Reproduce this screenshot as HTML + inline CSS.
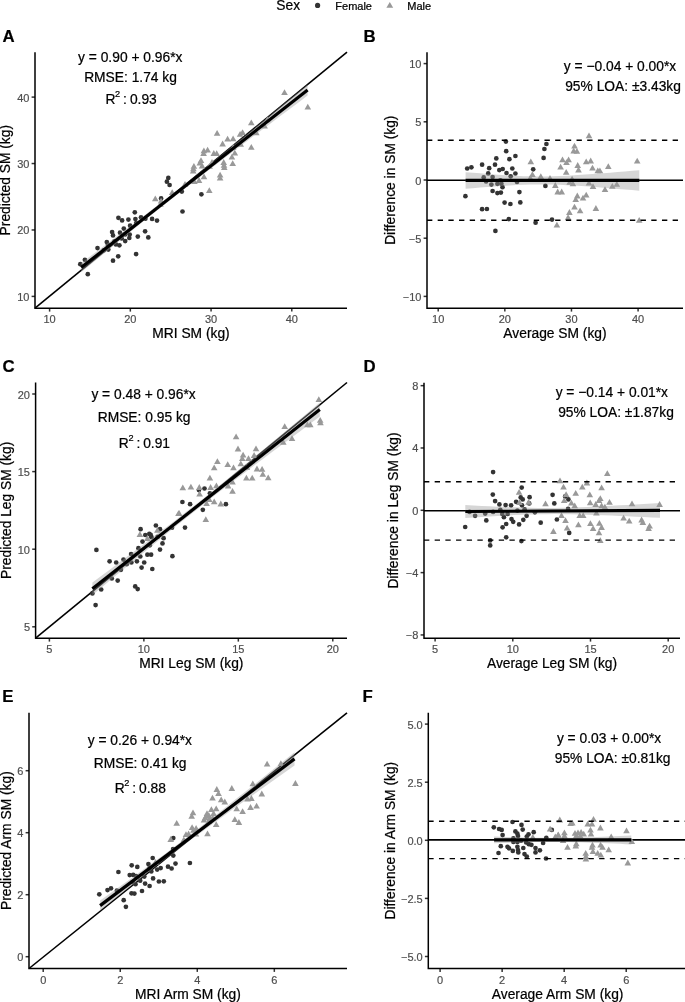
<!DOCTYPE html>
<html><head><meta charset="utf-8"><style>
html,body{margin:0;padding:0;background:#fff;width:685px;height:1002px;overflow:hidden}
svg text{font-family:"Liberation Sans", sans-serif}
svg text{stroke-width:0.22px;stroke-linejoin:round}
svg text[fill="#000"]{stroke:#000}
svg text[fill="#4d4d4d"]{stroke:#4d4d4d;stroke-width:0.18px}
</style></head><body>
<svg width="685" height="1002" viewBox="0 0 685 1002" style="display:block;will-change:transform">
<rect width="685" height="1002" fill="#fff"/>
<text x="276.3" y="9.9" font-size="13.8" fill="#000">Sex</text>
<circle cx="317.6" cy="5.4" r="2.6" fill="#333"/>
<text x="335.3" y="9.6" font-size="11" fill="#000">Female</text>
<path d="M386.4,7.7 L393.2,7.7 L389.8,1.9 Z" fill="#999"/>
<text x="407.3" y="9.6" font-size="11" fill="#000">Male</text>
<text x="2.6" y="41.9" font-size="16.8" font-weight="bold" fill="#000">A</text>
<text x="363.6" y="41.8" font-size="16.8" font-weight="bold" fill="#000">B</text>
<text x="2.5" y="371.9" font-size="16.8" font-weight="bold" fill="#000">C</text>
<text x="363.6" y="371.8" font-size="16.8" font-weight="bold" fill="#000">D</text>
<text x="2.3" y="702.4" font-size="16.8" font-weight="bold" fill="#000">E</text>
<text x="362.4" y="702.3" font-size="16.8" font-weight="bold" fill="#000">F</text>
<line x1="35.00" y1="308.20" x2="347.00" y2="52.20" stroke="#000" stroke-width="1.6"/>
<g fill="#333333"><circle cx="134.8" cy="212.3" r="2.35"/><circle cx="118.4" cy="217.8" r="2.35"/><circle cx="122.1" cy="220.4" r="2.35"/><circle cx="128.4" cy="219.6" r="2.35"/><circle cx="135.4" cy="219.0" r="2.35"/><circle cx="141.0" cy="217.3" r="2.35"/><circle cx="145.4" cy="218.7" r="2.35"/><circle cx="152.1" cy="218.9" r="2.35"/><circle cx="130.1" cy="225.7" r="2.35"/><circle cx="123.8" cy="228.6" r="2.35"/><circle cx="112.1" cy="232.1" r="2.35"/><circle cx="113.0" cy="235.4" r="2.35"/><circle cx="120.0" cy="232.7" r="2.35"/><circle cx="129.7" cy="234.5" r="2.35"/><circle cx="129.3" cy="238.0" r="2.35"/><circle cx="125.2" cy="241.1" r="2.35"/><circle cx="121.7" cy="238.5" r="2.35"/><circle cx="137.8" cy="236.6" r="2.35"/><circle cx="145.1" cy="231.3" r="2.35"/><circle cx="148.3" cy="237.4" r="2.35"/><circle cx="106.8" cy="242.0" r="2.35"/><circle cx="115.9" cy="244.4" r="2.35"/><circle cx="119.4" cy="245.3" r="2.35"/><circle cx="108.3" cy="249.6" r="2.35"/><circle cx="97.5" cy="248.1" r="2.35"/><circle cx="118.2" cy="256.3" r="2.35"/><circle cx="113.0" cy="260.7" r="2.35"/><circle cx="136.1" cy="254.1" r="2.35"/><circle cx="84.9" cy="259.8" r="2.35"/><circle cx="80.3" cy="264.2" r="2.35"/><circle cx="87.8" cy="274.2" r="2.35"/><circle cx="157.0" cy="220.6" r="2.35"/><circle cx="168.3" cy="177.9" r="2.35"/><circle cx="166.9" cy="181.7" r="2.35"/><circle cx="169.6" cy="185.0" r="2.35"/><circle cx="161.1" cy="198.4" r="2.35"/><circle cx="181.8" cy="191.6" r="2.35"/><circle cx="201.4" cy="194.3" r="2.35"/><circle cx="182.5" cy="211.5" r="2.35"/><circle cx="107.9" cy="244.7" r="2.35"/><circle cx="136.2" cy="223.1" r="2.35"/><circle cx="103.8" cy="250.3" r="2.35"/><circle cx="114.5" cy="241.3" r="2.35"/><circle cx="125.1" cy="234.5" r="2.35"/></g>
<g fill="#999999"><path d="M155.3,195.50L158.60,201.30L152.00,201.30Z"/><path d="M161.1,197.70L164.40,203.50L157.80,203.50Z"/><path d="M172.2,189.30L175.50,195.10L168.90,195.10Z"/><path d="M185.0,180.90L188.30,186.70L181.70,186.70Z"/><path d="M194.4,178.20L197.70,184.00L191.10,184.00Z"/><path d="M199.0,177.10L202.30,182.90L195.70,182.90Z"/><path d="M204.0,173.50L207.30,179.30L200.70,179.30Z"/><path d="M193.2,167.70L196.50,173.50L189.90,173.50Z"/><path d="M209.3,187.20L212.60,193.00L206.00,193.00Z"/><path d="M220.1,171.80L223.40,177.60L216.80,177.60Z"/><path d="M220.1,174.70L223.40,180.50L216.80,180.50Z"/><path d="M217.1,129.90L220.40,135.70L213.80,135.70Z"/><path d="M227.6,135.70L230.90,141.50L224.30,141.50Z"/><path d="M233.1,135.50L236.40,141.30L229.80,141.30Z"/><path d="M240.1,131.00L243.40,136.80L236.80,136.80Z"/><path d="M242.6,129.30L245.90,135.10L239.30,135.10Z"/><path d="M222.6,140.60L225.90,146.40L219.30,146.40Z"/><path d="M240.7,141.00L244.00,146.80L237.40,146.80Z"/><path d="M251.3,119.40L254.60,125.20L248.00,125.20Z"/><path d="M251.3,144.00L254.60,149.80L248.00,149.80Z"/><path d="M203.9,147.40L207.20,153.20L200.60,153.20Z"/><path d="M207.6,146.80L210.90,152.60L204.30,152.60Z"/><path d="M203.6,150.10L206.90,155.90L200.30,155.90Z"/><path d="M213.8,150.10L217.10,155.90L210.50,155.90Z"/><path d="M216.7,150.30L220.00,156.10L213.40,156.10Z"/><path d="M234.8,149.70L238.10,155.50L231.50,155.50Z"/><path d="M231.9,153.80L235.20,159.60L228.60,159.60Z"/><path d="M201.0,157.30L204.30,163.10L197.70,163.10Z"/><path d="M199.8,159.70L203.10,165.50L196.50,165.50Z"/><path d="M202.1,162.60L205.40,168.40L198.80,168.40Z"/><path d="M212.0,159.10L215.30,164.90L208.70,164.90Z"/><path d="M223.7,159.10L227.00,164.90L220.40,164.90Z"/><path d="M224.0,162.00L227.30,167.80L220.70,167.80Z"/><path d="M224.3,164.30L227.60,170.10L221.00,170.10Z"/><path d="M232.7,160.20L236.00,166.00L229.40,166.00Z"/><path d="M193.9,162.90L197.20,168.70L190.60,168.70Z"/><path d="M193.4,165.50L196.70,171.30L190.10,171.30Z"/><path d="M284.5,89.20L287.80,95.00L281.20,95.00Z"/><path d="M307.8,103.70L311.10,109.50L304.50,109.50Z"/><path d="M264.6,122.70L267.90,128.50L261.30,128.50Z"/><path d="M256.3,129.50L259.60,135.30L253.00,135.30Z"/><path d="M160.4,201.00L163.70,206.80L157.10,206.80Z"/><path d="M209.6,162.90L212.90,168.70L206.30,168.70Z"/><path d="M233.2,143.90L236.50,149.70L229.90,149.70Z"/><path d="M267.3,116.50L270.60,122.30L264.00,122.30Z"/></g>
<path d="M81.20,263.00 L90.63,255.95 L100.07,248.89 L109.50,241.82 L118.93,234.73 L128.37,227.62 L137.80,220.48 L147.23,213.30 L156.67,206.06 L166.10,198.77 L175.53,191.40 L184.97,183.97 L194.40,176.47 L203.83,168.93 L213.27,161.35 L222.70,153.72 L232.13,146.08 L241.57,138.41 L251.00,130.72 L260.43,123.02 L269.87,115.31 L279.30,107.59 L288.73,99.87 L298.17,92.13 L307.60,84.40 L307.60,95.60 L298.17,102.67 L288.73,109.73 L279.30,116.81 L269.87,123.89 L260.43,130.98 L251.00,138.08 L241.57,145.19 L232.13,152.32 L222.70,159.48 L213.27,166.65 L203.83,173.87 L194.40,181.13 L184.97,188.43 L175.53,195.80 L166.10,203.23 L156.67,210.74 L147.23,218.30 L137.80,225.92 L128.37,233.58 L118.93,241.27 L109.50,248.98 L100.07,256.71 L90.63,264.45 L81.20,272.20Z" fill="#999" fill-opacity="0.4"/>
<line x1="81.20" y1="267.60" x2="307.60" y2="90.00" stroke="#000" stroke-width="3.2"/>
<line x1="427.00" y1="180.30" x2="683.00" y2="180.30" stroke="#000" stroke-width="1.6"/>
<g fill="#333333"><circle cx="505.9" cy="141.6" r="2.35"/><circle cx="546.4" cy="144.0" r="2.35"/><circle cx="544.4" cy="149.0" r="2.35"/><circle cx="506.2" cy="151.2" r="2.35"/><circle cx="515.4" cy="156.0" r="2.35"/><circle cx="496.3" cy="158.4" r="2.35"/><circle cx="509.4" cy="159.2" r="2.35"/><circle cx="543.6" cy="157.9" r="2.35"/><circle cx="482.1" cy="164.7" r="2.35"/><circle cx="495.0" cy="164.7" r="2.35"/><circle cx="467.2" cy="168.5" r="2.35"/><circle cx="471.4" cy="167.3" r="2.35"/><circle cx="489.2" cy="168.2" r="2.35"/><circle cx="512.3" cy="168.5" r="2.35"/><circle cx="499.3" cy="170.1" r="2.35"/><circle cx="502.7" cy="169.0" r="2.35"/><circle cx="533.2" cy="169.3" r="2.35"/><circle cx="488.2" cy="173.4" r="2.35"/><circle cx="506.5" cy="173.0" r="2.35"/><circle cx="515.4" cy="173.5" r="2.35"/><circle cx="510.7" cy="176.3" r="2.35"/><circle cx="483.7" cy="177.4" r="2.35"/><circle cx="492.6" cy="177.1" r="2.35"/><circle cx="486.1" cy="181.4" r="2.35"/><circle cx="491.4" cy="184.6" r="2.35"/><circle cx="497.4" cy="183.8" r="2.35"/><circle cx="501.4" cy="183.8" r="2.35"/><circle cx="502.5" cy="187.2" r="2.35"/><circle cx="517.0" cy="181.9" r="2.35"/><circle cx="545.4" cy="185.9" r="2.35"/><circle cx="465.4" cy="196.2" r="2.35"/><circle cx="492.6" cy="191.0" r="2.35"/><circle cx="497.4" cy="193.1" r="2.35"/><circle cx="500.9" cy="192.6" r="2.35"/><circle cx="519.4" cy="192.1" r="2.35"/><circle cx="504.6" cy="202.6" r="2.35"/><circle cx="510.4" cy="204.0" r="2.35"/><circle cx="520.3" cy="202.4" r="2.35"/><circle cx="482.1" cy="209.2" r="2.35"/><circle cx="486.9" cy="209.0" r="2.35"/><circle cx="508.8" cy="219.1" r="2.35"/><circle cx="535.6" cy="222.7" r="2.35"/><circle cx="552.0" cy="219.6" r="2.35"/><circle cx="495.4" cy="230.9" r="2.35"/><circle cx="500.4" cy="180.3" r="2.35"/></g>
<g fill="#999999"><path d="M530.8,158.40L534.10,164.20L527.50,164.20Z"/><path d="M532.4,171.30L535.70,177.10L529.10,177.10Z"/><path d="M530.3,174.80L533.60,180.60L527.00,180.60Z"/><path d="M540.8,173.30L544.10,179.10L537.50,179.10Z"/><path d="M550.0,174.90L553.30,180.70L546.70,180.70Z"/><path d="M555.3,182.10L558.60,187.90L552.00,187.90Z"/><path d="M557.7,188.60L561.00,194.40L554.40,194.40Z"/><path d="M561.7,188.60L565.00,194.40L558.40,194.40Z"/><path d="M556.9,221.80L560.20,227.60L553.60,227.60Z"/><path d="M560.6,163.70L563.90,169.50L557.30,169.50Z"/><path d="M589.0,132.40L592.30,138.20L585.70,138.20Z"/><path d="M574.5,142.80L577.80,148.60L571.20,148.60Z"/><path d="M573.7,147.60L577.00,153.40L570.40,153.40Z"/><path d="M576.9,147.90L580.20,153.70L573.60,153.70Z"/><path d="M562.5,156.40L565.80,162.20L559.20,162.20Z"/><path d="M568.6,156.40L571.90,162.20L565.30,162.20Z"/><path d="M566.5,159.20L569.80,165.00L563.20,165.00Z"/><path d="M577.7,162.10L581.00,167.90L574.40,167.90Z"/><path d="M578.5,166.60L581.80,172.40L575.20,172.40Z"/><path d="M586.2,158.40L589.50,164.20L582.90,164.20Z"/><path d="M590.7,157.60L594.00,163.40L587.40,163.40Z"/><path d="M592.5,164.80L595.80,170.60L589.20,170.60Z"/><path d="M597.8,167.40L601.10,173.20L594.50,173.20Z"/><path d="M599.9,167.40L603.20,173.20L596.60,173.20Z"/><path d="M608.3,163.20L611.60,169.00L605.00,169.00Z"/><path d="M637.2,157.70L640.50,163.50L633.90,163.50Z"/><path d="M566.2,169.00L569.50,174.80L562.90,174.80Z"/><path d="M572.1,175.70L575.40,181.50L568.80,181.50Z"/><path d="M569.7,178.90L573.00,184.70L566.40,184.70Z"/><path d="M572.9,180.50L576.20,186.30L569.60,186.30Z"/><path d="M589.0,179.70L592.30,185.50L585.70,185.50Z"/><path d="M593.0,183.30L596.30,189.10L589.70,189.10Z"/><path d="M605.0,186.20L608.30,192.00L601.70,192.00Z"/><path d="M612.3,182.90L615.60,188.70L609.00,188.70Z"/><path d="M616.8,181.00L620.10,186.80L613.50,186.80Z"/><path d="M577.3,192.60L580.60,198.40L574.00,198.40Z"/><path d="M575.7,196.30L579.00,202.10L572.40,202.10Z"/><path d="M586.2,191.80L589.50,197.60L582.90,197.60Z"/><path d="M583.0,194.70L586.30,200.50L579.70,200.50Z"/><path d="M574.5,203.80L577.80,209.60L571.20,209.60Z"/><path d="M580.1,207.50L583.40,213.30L576.80,213.30Z"/><path d="M569.4,209.10L572.70,214.90L566.10,214.90Z"/><path d="M595.9,205.10L599.20,210.90L592.60,210.90Z"/><path d="M568.1,214.30L571.40,220.10L564.80,220.10Z"/><path d="M639.2,217.00L642.50,222.80L635.90,222.80Z"/></g>
<line x1="427.00" y1="140.30" x2="683.00" y2="140.30" stroke="#000" stroke-width="1.4" stroke-dasharray="5.34,5.34"/>
<line x1="427.00" y1="220.30" x2="683.00" y2="220.30" stroke="#000" stroke-width="1.4" stroke-dasharray="5.34,5.34"/>
<path d="M465.60,172.15 L472.84,172.76 L480.08,173.36 L487.31,173.93 L494.55,174.47 L501.79,174.98 L509.02,175.43 L516.26,175.83 L523.50,176.14 L530.74,176.35 L537.98,176.45 L545.21,176.42 L552.45,176.28 L559.69,176.03 L566.92,175.69 L574.16,175.29 L581.40,174.82 L588.64,174.32 L595.88,173.78 L603.11,173.21 L610.35,172.63 L617.59,172.02 L624.82,171.41 L632.06,170.78 L639.30,170.15 L639.30,190.75 L632.06,190.12 L624.82,189.49 L617.59,188.88 L610.35,188.27 L603.11,187.69 L595.88,187.12 L588.64,186.58 L581.40,186.08 L574.16,185.61 L566.92,185.21 L559.69,184.87 L552.45,184.62 L545.21,184.48 L537.98,184.45 L530.74,184.55 L523.50,184.76 L516.26,185.07 L509.02,185.47 L501.79,185.92 L494.55,186.43 L487.31,186.97 L480.08,187.54 L472.84,188.14 L465.60,188.75Z" fill="#999" fill-opacity="0.4"/>
<line x1="465.60" y1="180.45" x2="639.30" y2="180.45" stroke="#000" stroke-width="3.2"/>
<line x1="35.60" y1="638.20" x2="347.00" y2="382.50" stroke="#000" stroke-width="1.6"/>
<g fill="#333333"><circle cx="96.4" cy="549.9" r="2.35"/><circle cx="95.6" cy="605.1" r="2.35"/><circle cx="92.4" cy="593.4" r="2.35"/><circle cx="101.2" cy="589.5" r="2.35"/><circle cx="111.8" cy="578.5" r="2.35"/><circle cx="117.7" cy="580.6" r="2.35"/><circle cx="109.6" cy="561.3" r="2.35"/><circle cx="116.2" cy="562.5" r="2.35"/><circle cx="120.9" cy="569.8" r="2.35"/><circle cx="123.5" cy="559.6" r="2.35"/><circle cx="126.7" cy="564.2" r="2.35"/><circle cx="131.1" cy="554.0" r="2.35"/><circle cx="131.4" cy="562.5" r="2.35"/><circle cx="136.9" cy="561.3" r="2.35"/><circle cx="138.4" cy="548.2" r="2.35"/><circle cx="140.3" cy="556.5" r="2.35"/><circle cx="142.5" cy="541.6" r="2.35"/><circle cx="144.2" cy="562.5" r="2.35"/><circle cx="141.6" cy="567.6" r="2.35"/><circle cx="140.6" cy="529.2" r="2.35"/><circle cx="145.3" cy="535.0" r="2.35"/><circle cx="149.3" cy="533.9" r="2.35"/><circle cx="151.5" cy="537.2" r="2.35"/><circle cx="147.4" cy="554.7" r="2.35"/><circle cx="151.1" cy="554.7" r="2.35"/><circle cx="152.3" cy="569.0" r="2.35"/><circle cx="135.2" cy="586.4" r="2.35"/><circle cx="137.7" cy="589.1" r="2.35"/><circle cx="155.9" cy="525.5" r="2.35"/><circle cx="160.0" cy="529.2" r="2.35"/><circle cx="163.6" cy="538.2" r="2.35"/><circle cx="162.5" cy="543.4" r="2.35"/><circle cx="160.0" cy="549.6" r="2.35"/><circle cx="149.8" cy="545.3" r="2.35"/><circle cx="172.4" cy="556.2" r="2.35"/><circle cx="172.0" cy="527.7" r="2.35"/><circle cx="150.7" cy="534.9" r="2.35"/><circle cx="198.9" cy="490.1" r="2.35"/><circle cx="204.5" cy="488.5" r="2.35"/><circle cx="209.9" cy="493.3" r="2.35"/><circle cx="182.4" cy="502.0" r="2.35"/><circle cx="190.1" cy="504.2" r="2.35"/><circle cx="202.8" cy="509.8" r="2.35"/><circle cx="225.9" cy="504.2" r="2.35"/><circle cx="185.0" cy="527.6" r="2.35"/><circle cx="157.6" cy="536.9" r="2.35"/></g>
<g fill="#999999"><path d="M139.9,531.10L143.20,536.90L136.60,536.90Z"/><path d="M147.4,535.10L150.70,540.90L144.10,540.90Z"/><path d="M157.4,527.00L160.70,532.80L154.10,532.80Z"/><path d="M178.5,510.20L181.80,516.00L175.20,516.00Z"/><path d="M238.0,445.60L241.30,451.40L234.70,451.40Z"/><path d="M243.1,451.70L246.40,457.50L239.80,457.50Z"/><path d="M242.3,455.30L245.60,461.10L239.00,461.10Z"/><path d="M248.5,455.30L251.80,461.10L245.20,461.10Z"/><path d="M217.4,458.30L220.70,464.10L214.10,464.10Z"/><path d="M227.7,461.20L231.00,467.00L224.40,467.00Z"/><path d="M233.5,464.50L236.80,470.30L230.20,470.30Z"/><path d="M240.8,460.50L244.10,466.30L237.50,466.30Z"/><path d="M214.2,464.50L217.50,470.30L210.90,470.30Z"/><path d="M209.9,474.80L213.20,480.60L206.60,480.60Z"/><path d="M246.4,474.80L249.70,480.60L243.10,480.60Z"/><path d="M232.5,478.70L235.80,484.50L229.20,484.50Z"/><path d="M228.1,482.60L231.40,488.40L224.80,488.40Z"/><path d="M232.5,487.90L235.80,493.70L229.20,493.70Z"/><path d="M216.4,482.40L219.70,488.20L213.10,488.20Z"/><path d="M210.6,484.10L213.90,489.90L207.30,489.90Z"/><path d="M199.3,484.10L202.60,489.90L196.00,489.90Z"/><path d="M199.6,490.80L202.90,496.60L196.30,496.60Z"/><path d="M182.8,484.50L186.10,490.30L179.50,490.30Z"/><path d="M190.9,483.80L194.20,489.60L187.60,489.60Z"/><path d="M206.6,500.20L209.90,506.00L203.30,506.00Z"/><path d="M214.2,498.40L217.50,504.20L210.90,504.20Z"/><path d="M220.8,500.60L224.10,506.40L217.50,506.40Z"/><path d="M179.2,510.10L182.50,515.90L175.90,515.90Z"/><path d="M205.8,516.20L209.10,522.00L202.50,522.00Z"/><path d="M209.3,496.20L212.60,502.00L206.00,502.00Z"/><path d="M318.8,396.20L322.10,402.00L315.50,402.00Z"/><path d="M320.2,417.00L323.50,422.80L316.90,422.80Z"/><path d="M320.5,419.50L323.80,425.30L317.20,425.30Z"/><path d="M307.4,421.40L310.70,427.20L304.10,427.20Z"/><path d="M310.3,421.40L313.60,427.20L307.00,427.20Z"/><path d="M284.7,423.30L288.00,429.10L281.40,429.10Z"/><path d="M292.0,435.30L295.30,441.10L288.70,441.10Z"/><path d="M283.3,438.90L286.60,444.70L280.00,444.70Z"/><path d="M236.1,433.50L239.40,439.30L232.80,439.30Z"/><path d="M256.0,445.50L259.30,451.30L252.70,451.30Z"/><path d="M254.1,452.10L257.40,457.90L250.80,457.90Z"/><path d="M257.0,465.60L260.30,471.40L253.70,471.40Z"/><path d="M262.1,465.90L265.40,471.70L258.80,471.70Z"/><path d="M262.8,471.00L266.10,476.80L259.50,476.80Z"/><path d="M268.2,474.40L271.50,480.20L264.90,480.20Z"/><path d="M252.2,474.70L255.50,480.50L248.90,480.50Z"/><path d="M246.9,464.00L250.20,469.80L243.60,469.80Z"/></g>
<path d="M92.40,582.50 L101.88,575.46 L111.35,568.40 L120.83,561.34 L130.30,554.26 L139.78,547.15 L149.25,540.02 L158.73,532.86 L168.20,525.65 L177.68,518.39 L187.15,511.06 L196.62,503.66 L206.10,496.18 L215.57,488.62 L225.05,480.99 L234.53,473.29 L244.00,465.54 L253.48,457.75 L262.95,449.92 L272.43,442.07 L281.90,434.20 L291.38,426.32 L300.85,418.42 L310.33,410.52 L319.80,402.60 L319.80,416.60 L310.33,423.62 L300.85,430.64 L291.38,437.68 L281.90,444.73 L272.43,451.79 L262.95,458.88 L253.48,465.99 L244.00,473.13 L234.53,480.31 L225.05,487.55 L215.57,494.84 L206.10,502.22 L196.62,509.67 L187.15,517.21 L177.68,524.81 L168.20,532.48 L158.73,540.21 L149.25,547.98 L139.78,555.78 L130.30,563.61 L120.83,571.46 L111.35,579.33 L101.88,587.21 L92.40,595.10Z" fill="#999" fill-opacity="0.4"/>
<line x1="92.40" y1="588.80" x2="319.80" y2="409.60" stroke="#000" stroke-width="3.2"/>
<line x1="424.00" y1="510.75" x2="680.00" y2="510.75" stroke="#000" stroke-width="1.6"/>
<g fill="#333333"><circle cx="493.1" cy="472.1" r="2.35"/><circle cx="521.7" cy="487.6" r="2.35"/><circle cx="492.8" cy="494.6" r="2.35"/><circle cx="495.1" cy="501.1" r="2.35"/><circle cx="499.4" cy="504.4" r="2.35"/><circle cx="505.6" cy="505.1" r="2.35"/><circle cx="511.1" cy="505.3" r="2.35"/><circle cx="516.1" cy="501.8" r="2.35"/><circle cx="520.7" cy="497.4" r="2.35"/><circle cx="522.7" cy="499.4" r="2.35"/><circle cx="529.6" cy="497.2" r="2.35"/><circle cx="522.0" cy="505.3" r="2.35"/><circle cx="529.2" cy="503.4" r="2.35"/><circle cx="469.5" cy="511.9" r="2.35"/><circle cx="475.1" cy="515.8" r="2.35"/><circle cx="485.2" cy="513.6" r="2.35"/><circle cx="493.1" cy="511.9" r="2.35"/><circle cx="500.3" cy="509.9" r="2.35"/><circle cx="502.3" cy="513.9" r="2.35"/><circle cx="507.6" cy="513.9" r="2.35"/><circle cx="503.9" cy="517.2" r="2.35"/><circle cx="486.3" cy="520.4" r="2.35"/><circle cx="465.2" cy="527.0" r="2.35"/><circle cx="511.5" cy="519.1" r="2.35"/><circle cx="513.2" cy="521.8" r="2.35"/><circle cx="506.2" cy="524.0" r="2.35"/><circle cx="502.6" cy="527.3" r="2.35"/><circle cx="519.1" cy="524.4" r="2.35"/><circle cx="523.3" cy="519.8" r="2.35"/><circle cx="526.6" cy="515.8" r="2.35"/><circle cx="517.4" cy="510.6" r="2.35"/><circle cx="524.6" cy="509.3" r="2.35"/><circle cx="534.9" cy="512.3" r="2.35"/><circle cx="540.7" cy="522.7" r="2.35"/><circle cx="506.2" cy="537.3" r="2.35"/><circle cx="490.2" cy="540.4" r="2.35"/><circle cx="490.2" cy="545.4" r="2.35"/><circle cx="521.4" cy="541.1" r="2.35"/><circle cx="552.6" cy="494.8" r="2.35"/><circle cx="554.3" cy="503.4" r="2.35"/><circle cx="565.2" cy="496.4" r="2.35"/><circle cx="568.4" cy="499.4" r="2.35"/><circle cx="568.1" cy="508.9" r="2.35"/><circle cx="556.9" cy="519.5" r="2.35"/><circle cx="569.2" cy="532.9" r="2.35"/></g>
<g fill="#999999"><path d="M519.1,489.00L522.40,494.80L515.80,494.80Z"/><path d="M528.6,498.90L531.90,504.70L525.30,504.70Z"/><path d="M519.4,499.10L522.70,504.90L516.10,504.90Z"/><path d="M545.5,500.50L548.80,506.30L542.20,506.30Z"/><path d="M607.3,470.20L610.60,476.00L604.00,476.00Z"/><path d="M560.0,477.50L563.30,483.30L556.70,483.30Z"/><path d="M563.5,483.80L566.80,489.60L560.20,489.60Z"/><path d="M582.3,483.80L585.60,489.60L579.00,489.60Z"/><path d="M586.9,479.60L590.20,485.40L583.60,485.40Z"/><path d="M601.6,484.40L604.90,490.20L598.30,490.20Z"/><path d="M575.7,489.90L579.00,495.70L572.40,495.70Z"/><path d="M589.8,491.50L593.10,497.30L586.50,497.30Z"/><path d="M566.1,491.30L569.40,497.10L562.80,497.10Z"/><path d="M564.2,497.20L567.50,503.00L560.90,503.00Z"/><path d="M571.4,499.80L574.70,505.60L568.10,505.60Z"/><path d="M574.7,502.40L578.00,508.20L571.40,508.20Z"/><path d="M590.2,499.40L593.50,505.20L586.90,505.20Z"/><path d="M595.7,501.10L599.00,506.90L592.40,506.90Z"/><path d="M600.3,495.20L603.60,501.00L597.00,501.00Z"/><path d="M599.0,497.20L602.30,503.00L595.70,503.00Z"/><path d="M609.5,498.90L612.80,504.70L606.20,504.70Z"/><path d="M601.6,502.40L604.90,508.20L598.30,508.20Z"/><path d="M604.9,503.70L608.20,509.50L601.60,509.50Z"/><path d="M596.4,509.70L599.70,515.50L593.10,515.50Z"/><path d="M561.5,512.30L564.80,518.10L558.20,518.10Z"/><path d="M565.5,517.30L568.80,523.10L562.20,523.10Z"/><path d="M579.7,512.30L583.00,518.10L576.40,518.10Z"/><path d="M583.2,512.30L586.50,518.10L579.90,518.10Z"/><path d="M578.4,521.50L581.70,527.30L575.10,527.30Z"/><path d="M590.4,520.20L593.70,526.00L587.10,526.00Z"/><path d="M593.1,525.20L596.40,531.00L589.80,531.00Z"/><path d="M599.4,519.90L602.70,525.70L596.10,525.70Z"/><path d="M601.6,524.10L604.90,529.90L598.30,529.90Z"/><path d="M599.0,529.40L602.30,535.20L595.70,535.20Z"/><path d="M567.1,524.80L570.40,530.60L563.80,530.60Z"/><path d="M553.4,528.10L556.70,533.90L550.10,533.90Z"/><path d="M600.3,537.20L603.60,543.00L597.00,543.00Z"/><path d="M632.0,500.50L635.30,506.30L628.70,506.30Z"/><path d="M659.6,501.10L662.90,506.90L656.30,506.90Z"/><path d="M623.6,514.70L626.90,520.50L620.30,520.50Z"/><path d="M629.2,517.80L632.50,523.60L625.90,523.60Z"/><path d="M641.6,516.60L644.90,522.40L638.30,522.40Z"/><path d="M642.8,519.10L646.10,524.90L639.50,524.90Z"/><path d="M649.6,522.80L652.90,528.60L646.30,528.60Z"/><path d="M648.6,525.30L651.90,531.10L645.30,531.10Z"/></g>
<line x1="424.00" y1="481.70" x2="680.00" y2="481.70" stroke="#000" stroke-width="1.4" stroke-dasharray="5.34,5.34"/>
<line x1="424.00" y1="540.10" x2="680.00" y2="540.10" stroke="#000" stroke-width="1.4" stroke-dasharray="5.34,5.34"/>
<path d="M465.30,505.10 L473.41,505.52 L481.53,505.93 L489.64,506.32 L497.75,506.69 L505.86,507.04 L513.98,507.34 L522.09,507.59 L530.20,507.79 L538.31,507.91 L546.42,507.94 L554.54,507.88 L562.65,507.74 L570.76,507.54 L578.88,507.27 L586.99,506.95 L595.10,506.60 L603.21,506.21 L611.33,505.79 L619.44,505.36 L627.55,504.91 L635.66,504.44 L643.77,503.97 L651.89,503.49 L660.00,503.00 L660.00,517.80 L651.89,517.40 L643.77,517.01 L635.66,516.63 L627.55,516.26 L619.44,515.90 L611.33,515.56 L603.21,515.24 L595.10,514.94 L586.99,514.67 L578.88,514.45 L570.76,514.27 L562.65,514.16 L554.54,514.11 L546.42,514.15 L538.31,514.27 L530.20,514.48 L522.09,514.76 L513.98,515.11 L505.86,515.51 L497.75,515.94 L489.64,516.40 L481.53,516.88 L473.41,517.39 L465.30,517.90Z" fill="#999" fill-opacity="0.4"/>
<line x1="465.30" y1="511.50" x2="660.00" y2="510.40" stroke="#000" stroke-width="3.2"/>
<line x1="29.00" y1="968.50" x2="347.00" y2="712.80" stroke="#000" stroke-width="1.6"/>
<g fill="#333333"><circle cx="152.7" cy="858.0" r="2.35"/><circle cx="131.7" cy="865.3" r="2.35"/><circle cx="137.3" cy="866.9" r="2.35"/><circle cx="148.4" cy="864.1" r="2.35"/><circle cx="149.6" cy="867.9" r="2.35"/><circle cx="118.4" cy="872.0" r="2.35"/><circle cx="129.7" cy="875.1" r="2.35"/><circle cx="133.2" cy="874.9" r="2.35"/><circle cx="136.1" cy="876.1" r="2.35"/><circle cx="144.3" cy="876.6" r="2.35"/><circle cx="151.3" cy="871.4" r="2.35"/><circle cx="157.2" cy="869.6" r="2.35"/><circle cx="160.7" cy="868.1" r="2.35"/><circle cx="168.0" cy="866.7" r="2.35"/><circle cx="153.1" cy="878.4" r="2.35"/><circle cx="158.9" cy="881.5" r="2.35"/><circle cx="163.8" cy="881.3" r="2.35"/><circle cx="140.2" cy="880.7" r="2.35"/><circle cx="135.5" cy="884.2" r="2.35"/><circle cx="145.1" cy="883.6" r="2.35"/><circle cx="149.6" cy="886.0" r="2.35"/><circle cx="142.0" cy="891.0" r="2.35"/><circle cx="131.5" cy="893.3" r="2.35"/><circle cx="134.4" cy="893.6" r="2.35"/><circle cx="107.5" cy="890.1" r="2.35"/><circle cx="111.0" cy="888.3" r="2.35"/><circle cx="116.9" cy="890.7" r="2.35"/><circle cx="99.3" cy="894.3" r="2.35"/><circle cx="123.7" cy="900.2" r="2.35"/><circle cx="125.9" cy="906.8" r="2.35"/><circle cx="173.3" cy="838.1" r="2.35"/><circle cx="173.1" cy="849.0" r="2.35"/><circle cx="173.3" cy="855.6" r="2.35"/><circle cx="175.5" cy="863.6" r="2.35"/><circle cx="189.9" cy="863.0" r="2.35"/><circle cx="171.6" cy="868.5" r="2.35"/><circle cx="132.6" cy="882.2" r="2.35"/></g>
<g fill="#999999"><path d="M170.7,836.10L174.00,841.90L167.40,841.90Z"/><path d="M176.7,820.00L180.00,825.80L173.40,825.80Z"/><path d="M193.0,809.40L196.30,815.20L189.70,815.20Z"/><path d="M191.7,812.90L195.00,818.70L188.40,818.70Z"/><path d="M192.1,824.20L195.40,830.00L188.80,830.00Z"/><path d="M196.1,825.10L199.40,830.90L192.80,830.90Z"/><path d="M193.5,826.90L196.80,832.70L190.20,832.70Z"/><path d="M186.0,831.30L189.30,837.10L182.70,837.10Z"/><path d="M188.6,830.40L191.90,836.20L185.30,836.20Z"/><path d="M183.8,836.50L187.10,842.30L180.50,842.30Z"/><path d="M207.5,830.40L210.80,836.20L204.20,836.20Z"/><path d="M216.2,805.40L219.50,811.20L212.90,811.20Z"/><path d="M211.4,806.30L214.70,812.10L208.10,812.10Z"/><path d="M207.0,810.20L210.30,816.00L203.70,816.00Z"/><path d="M208.8,812.00L212.10,817.80L205.50,817.80Z"/><path d="M205.3,814.20L208.60,820.00L202.00,820.00Z"/><path d="M209.7,815.10L213.00,820.90L206.40,820.90Z"/><path d="M213.6,810.20L216.90,816.00L210.30,816.00Z"/><path d="M212.7,814.60L216.00,820.40L209.40,820.40Z"/><path d="M216.2,821.20L219.50,827.00L212.90,827.00Z"/><path d="M208.8,818.10L212.10,823.90L205.50,823.90Z"/><path d="M221.2,796.40L224.50,802.20L217.90,802.20Z"/><path d="M224.8,798.60L228.10,804.40L221.50,804.40Z"/><path d="M212.5,794.70L215.80,800.50L209.20,800.50Z"/><path d="M216.8,786.10L220.10,791.90L213.50,791.90Z"/><path d="M218.5,790.30L221.80,796.10L215.20,796.10Z"/><path d="M267.1,760.80L270.40,766.60L263.80,766.60Z"/><path d="M252.8,780.40L256.10,786.20L249.50,786.20Z"/><path d="M231.8,785.10L235.10,790.90L228.50,790.90Z"/><path d="M261.8,790.60L265.10,796.40L258.50,796.40Z"/><path d="M247.5,795.60L250.80,801.40L244.20,801.40Z"/><path d="M251.4,795.10L254.70,800.90L248.10,800.90Z"/><path d="M236.7,805.40L240.00,811.20L233.40,811.20Z"/><path d="M242.6,808.30L245.90,814.10L239.30,814.10Z"/><path d="M250.5,804.10L253.80,809.90L247.20,809.90Z"/><path d="M256.6,802.70L259.90,808.50L253.30,808.50Z"/><path d="M234.8,816.20L238.10,822.00L231.50,822.00Z"/><path d="M238.9,819.10L242.20,824.90L235.60,824.90Z"/><path d="M295.4,780.10L298.70,785.90L292.10,785.90Z"/><path d="M280.9,760.20L284.20,766.00L277.60,766.00Z"/><path d="M155.5,858.90L158.80,864.70L152.20,864.70Z"/><path d="M195.9,830.80L199.20,836.60L192.60,836.60Z"/><path d="M204.0,816.70L207.30,822.50L200.70,822.50Z"/><path d="M206.6,812.70L209.90,818.50L203.30,818.50Z"/></g>
<path d="M100.10,900.40 L108.20,894.68 L116.30,888.94 L124.40,883.18 L132.50,877.40 L140.60,871.60 L148.70,865.75 L156.80,859.85 L164.90,853.90 L173.00,847.87 L181.10,841.77 L189.20,835.60 L197.30,829.37 L205.40,823.09 L213.50,816.76 L221.60,810.40 L229.70,804.00 L237.80,797.58 L245.90,791.15 L254.00,784.70 L262.10,778.23 L270.20,771.76 L278.30,765.28 L286.40,758.79 L294.50,752.30 L294.50,765.50 L286.40,771.23 L278.30,776.97 L270.20,782.72 L262.10,788.47 L254.00,794.23 L245.90,800.00 L237.80,805.79 L229.70,811.60 L221.60,817.43 L213.50,823.29 L205.40,829.19 L197.30,835.13 L189.20,841.12 L181.10,847.18 L173.00,853.30 L164.90,859.50 L156.80,865.77 L148.70,872.10 L140.60,878.48 L132.50,884.90 L124.40,891.34 L116.30,897.81 L108.20,904.30 L100.10,910.80Z" fill="#999" fill-opacity="0.4"/>
<line x1="100.10" y1="905.60" x2="294.50" y2="758.90" stroke="#000" stroke-width="3.2"/>
<line x1="428.30" y1="839.90" x2="687.00" y2="839.90" stroke="#000" stroke-width="1.6"/>
<g fill="#333333"><circle cx="493.8" cy="827.3" r="2.35"/><circle cx="499.1" cy="829.0" r="2.35"/><circle cx="501.7" cy="829.9" r="2.35"/><circle cx="502.6" cy="835.1" r="2.35"/><circle cx="512.5" cy="822.0" r="2.35"/><circle cx="521.5" cy="824.9" r="2.35"/><circle cx="522.7" cy="829.6" r="2.35"/><circle cx="515.4" cy="831.4" r="2.35"/><circle cx="517.4" cy="833.7" r="2.35"/><circle cx="518.0" cy="836.0" r="2.35"/><circle cx="528.5" cy="834.3" r="2.35"/><circle cx="526.8" cy="836.6" r="2.35"/><circle cx="513.4" cy="838.4" r="2.35"/><circle cx="513.4" cy="841.9" r="2.35"/><circle cx="517.4" cy="841.9" r="2.35"/><circle cx="521.0" cy="840.7" r="2.35"/><circle cx="526.2" cy="842.4" r="2.35"/><circle cx="528.8" cy="844.2" r="2.35"/><circle cx="500.8" cy="846.2" r="2.35"/><circle cx="507.5" cy="846.8" r="2.35"/><circle cx="509.0" cy="848.3" r="2.35"/><circle cx="512.8" cy="850.9" r="2.35"/><circle cx="517.4" cy="846.8" r="2.35"/><circle cx="518.0" cy="850.0" r="2.35"/><circle cx="518.3" cy="852.4" r="2.35"/><circle cx="523.3" cy="848.0" r="2.35"/><circle cx="498.5" cy="853.0" r="2.35"/><circle cx="524.5" cy="854.1" r="2.35"/><circle cx="526.8" cy="856.5" r="2.35"/><circle cx="533.7" cy="832.2" r="2.35"/><circle cx="546.3" cy="837.8" r="2.35"/><circle cx="551.8" cy="829.9" r="2.35"/><circle cx="543.1" cy="843.0" r="2.35"/><circle cx="531.4" cy="844.8" r="2.35"/><circle cx="535.5" cy="848.0" r="2.35"/><circle cx="535.5" cy="852.4" r="2.35"/><circle cx="539.9" cy="850.3" r="2.35"/><circle cx="546.0" cy="858.5" r="2.35"/></g>
<g fill="#999999"><path d="M550.1,825.80L553.40,831.60L546.80,831.60Z"/><path d="M532.8,834.00L536.10,839.80L529.50,839.80Z"/><path d="M558.0,832.00L561.30,837.80L554.70,837.80Z"/><path d="M559.8,816.60L563.10,822.40L556.50,822.40Z"/><path d="M570.6,820.20L573.90,826.00L567.30,826.00Z"/><path d="M572.3,819.80L575.60,825.60L569.00,825.60Z"/><path d="M593.5,815.90L596.80,821.70L590.20,821.70Z"/><path d="M587.7,820.70L591.00,826.50L584.40,826.50Z"/><path d="M592.0,820.70L595.30,826.50L588.70,826.50Z"/><path d="M600.4,824.60L603.70,830.40L597.10,830.40Z"/><path d="M590.5,826.80L593.80,832.60L587.20,832.60Z"/><path d="M591.0,830.70L594.30,836.50L587.70,836.50Z"/><path d="M558.3,831.60L561.60,837.40L555.00,837.40Z"/><path d="M564.4,829.40L567.70,835.20L561.10,835.20Z"/><path d="M564.4,832.50L567.70,838.30L561.10,838.30Z"/><path d="M555.3,833.40L558.60,839.20L552.00,839.20Z"/><path d="M575.0,829.90L578.30,835.70L571.70,835.70Z"/><path d="M578.0,829.40L581.30,835.20L574.70,835.20Z"/><path d="M581.1,829.00L584.40,834.80L577.80,834.80Z"/><path d="M583.7,830.70L587.00,836.50L580.40,836.50Z"/><path d="M576.3,832.50L579.60,838.30L573.00,838.30Z"/><path d="M580.2,832.50L583.50,838.30L576.90,838.30Z"/><path d="M563.1,837.30L566.40,843.10L559.80,843.10Z"/><path d="M576.3,840.40L579.60,846.20L573.00,846.20Z"/><path d="M575.8,842.60L579.10,848.40L572.50,848.40Z"/><path d="M567.5,843.90L570.80,849.70L564.20,849.70Z"/><path d="M592.5,841.70L595.80,847.50L589.20,847.50Z"/><path d="M592.0,843.90L595.30,849.70L588.70,849.70Z"/><path d="M600.6,841.70L603.90,847.50L597.30,847.50Z"/><path d="M602.5,843.90L605.80,849.70L599.20,849.70Z"/><path d="M608.7,846.50L612.00,852.30L605.40,852.30Z"/><path d="M592.9,848.30L596.20,854.10L589.60,854.10Z"/><path d="M597.7,850.00L601.00,855.80L594.40,855.80Z"/><path d="M600.8,851.80L604.10,857.60L597.50,857.60Z"/><path d="M585.7,850.00L589.00,855.80L582.40,855.80Z"/><path d="M585.9,853.10L589.20,858.90L582.60,858.90Z"/><path d="M585.9,855.70L589.20,861.50L582.60,861.50Z"/><path d="M626.5,827.40L629.80,833.20L623.20,833.20Z"/><path d="M611.2,833.40L614.50,839.20L607.90,839.20Z"/><path d="M631.8,838.20L635.10,844.00L628.50,844.00Z"/><path d="M627.8,859.60L631.10,865.40L624.50,865.40Z"/></g>
<line x1="428.30" y1="821.30" x2="687.00" y2="821.30" stroke="#000" stroke-width="1.4" stroke-dasharray="5.34,5.34"/>
<line x1="428.30" y1="858.60" x2="687.00" y2="858.60" stroke="#000" stroke-width="1.4" stroke-dasharray="5.34,5.34"/>
<path d="M494.10,836.50 L499.82,836.71 L505.53,836.90 L511.25,837.09 L516.97,837.26 L522.68,837.42 L528.40,837.57 L534.12,837.69 L539.83,837.79 L545.55,837.85 L551.27,837.89 L556.98,837.90 L562.70,837.86 L568.42,837.78 L574.13,837.66 L579.85,837.51 L585.57,837.33 L591.28,837.13 L597.00,836.91 L602.72,836.68 L608.43,836.44 L614.15,836.19 L619.87,835.93 L625.58,835.67 L631.30,835.40 L631.30,844.40 L625.58,844.13 L619.87,843.87 L614.15,843.61 L608.43,843.36 L602.72,843.12 L597.00,842.89 L591.28,842.67 L585.57,842.47 L579.85,842.29 L574.13,842.14 L568.42,842.02 L562.70,841.94 L556.98,841.90 L551.27,841.91 L545.55,841.95 L539.83,842.01 L534.12,842.11 L528.40,842.23 L522.68,842.38 L516.97,842.54 L511.25,842.71 L505.53,842.90 L499.82,843.09 L494.10,843.30Z" fill="#999" fill-opacity="0.4"/>
<line x1="494.10" y1="839.90" x2="631.30" y2="839.90" stroke="#000" stroke-width="3.2"/>
<text x="130.25" y="62.20" font-size="13.8" text-anchor="middle" fill="#000">y = 0.90 + 0.96*x</text>
<text x="130.55" y="82.30" font-size="13.8" text-anchor="middle" fill="#000">RMSE: 1.74 kg</text>
<text y="104.30" font-size="13.8" fill="#000"><tspan x="105.50">R</tspan><tspan x="115.10" dy="-7.2" font-size="9.2">2</tspan><tspan x="123.10" dy="7.2">:</tspan><tspan x="129.90">0.93</tspan></text>
<text x="620.00" y="70.60" font-size="13.8" text-anchor="middle" fill="#000">y = −0.04 + 0.00*x</text>
<text x="623.05" y="90.90" font-size="13.8" text-anchor="middle" fill="#000">95% LOA: ±3.43kg</text>
<text x="143.55" y="399.00" font-size="13.8" text-anchor="middle" fill="#000">y = 0.48 + 0.96*x</text>
<text x="144.10" y="422.40" font-size="13.8" text-anchor="middle" fill="#000">RMSE: 0.95 kg</text>
<text y="448.20" font-size="13.8" fill="#000"><tspan x="118.80">R</tspan><tspan x="128.40" dy="-7.2" font-size="9.2">2</tspan><tspan x="136.40" dy="7.2">:</tspan><tspan x="143.20">0.91</tspan></text>
<text x="611.85" y="396.90" font-size="13.8" text-anchor="middle" fill="#000">y = −0.14 + 0.01*x</text>
<text x="616.00" y="417.00" font-size="13.8" text-anchor="middle" fill="#000">95% LOA: ±1.87kg</text>
<text x="139.85" y="744.80" font-size="13.8" text-anchor="middle" fill="#000">y = 0.26 + 0.94*x</text>
<text x="140.15" y="768.40" font-size="13.8" text-anchor="middle" fill="#000">RMSE: 0.41 kg</text>
<text y="793.00" font-size="13.8" fill="#000"><tspan x="114.70">R</tspan><tspan x="124.30" dy="-7.2" font-size="9.2">2</tspan><tspan x="132.30" dy="7.2">:</tspan><tspan x="139.10">0.88</tspan></text>
<text x="609.05" y="742.80" font-size="13.8" text-anchor="middle" fill="#000">y = 0.03 + 0.00*x</text>
<text x="612.60" y="762.60" font-size="13.8" text-anchor="middle" fill="#000">95% LOA: ±0.81kg</text>
<line x1="49.60" y1="308.20" x2="49.60" y2="311.60" stroke="#333" stroke-width="1.5"/>
<text x="49.60" y="323.20" font-size="11" fill="#4d4d4d" text-anchor="middle">10</text>
<line x1="130.33" y1="308.20" x2="130.33" y2="311.60" stroke="#333" stroke-width="1.5"/>
<text x="130.33" y="323.20" font-size="11" fill="#4d4d4d" text-anchor="middle">20</text>
<line x1="211.06" y1="308.20" x2="211.06" y2="311.60" stroke="#333" stroke-width="1.5"/>
<text x="211.06" y="323.20" font-size="11" fill="#4d4d4d" text-anchor="middle">30</text>
<line x1="291.79" y1="308.20" x2="291.79" y2="311.60" stroke="#333" stroke-width="1.5"/>
<text x="291.79" y="323.20" font-size="11" fill="#4d4d4d" text-anchor="middle">40</text>
<line x1="31.60" y1="296.40" x2="35.00" y2="296.40" stroke="#333" stroke-width="1.5"/>
<text x="29.40" y="300.90" font-size="11" fill="#4d4d4d" text-anchor="end">10</text>
<line x1="31.60" y1="229.97" x2="35.00" y2="229.97" stroke="#333" stroke-width="1.5"/>
<text x="29.40" y="234.47" font-size="11" fill="#4d4d4d" text-anchor="end">20</text>
<line x1="31.60" y1="163.54" x2="35.00" y2="163.54" stroke="#333" stroke-width="1.5"/>
<text x="29.40" y="168.04" font-size="11" fill="#4d4d4d" text-anchor="end">30</text>
<line x1="31.60" y1="97.11" x2="35.00" y2="97.11" stroke="#333" stroke-width="1.5"/>
<text x="29.40" y="101.61" font-size="11" fill="#4d4d4d" text-anchor="end">40</text>
<path d="M35.00,52.20 L35.00,308.20 L347.00,308.20" fill="none" stroke="#000" stroke-width="1.5" stroke-linecap="butt"/>
<text x="191.00" y="338.30" font-size="13.8" fill="#000" text-anchor="middle">MRI SM (kg)</text>
<text transform="translate(10.40,180.20) rotate(-90)" x="0" y="0" font-size="13.8" fill="#000" text-anchor="middle">Predicted SM (kg)</text>
<line x1="438.20" y1="308.20" x2="438.20" y2="311.60" stroke="#333" stroke-width="1.5"/>
<text x="438.20" y="323.20" font-size="11" fill="#4d4d4d" text-anchor="middle">10</text>
<line x1="504.83" y1="308.20" x2="504.83" y2="311.60" stroke="#333" stroke-width="1.5"/>
<text x="504.83" y="323.20" font-size="11" fill="#4d4d4d" text-anchor="middle">20</text>
<line x1="571.46" y1="308.20" x2="571.46" y2="311.60" stroke="#333" stroke-width="1.5"/>
<text x="571.46" y="323.20" font-size="11" fill="#4d4d4d" text-anchor="middle">30</text>
<line x1="638.09" y1="308.20" x2="638.09" y2="311.60" stroke="#333" stroke-width="1.5"/>
<text x="638.09" y="323.20" font-size="11" fill="#4d4d4d" text-anchor="middle">40</text>
<line x1="423.60" y1="296.40" x2="427.00" y2="296.40" stroke="#333" stroke-width="1.5"/>
<text x="421.40" y="300.90" font-size="11" fill="#4d4d4d" text-anchor="end">−10</text>
<line x1="423.60" y1="238.20" x2="427.00" y2="238.20" stroke="#333" stroke-width="1.5"/>
<text x="421.40" y="242.70" font-size="11" fill="#4d4d4d" text-anchor="end">−5</text>
<line x1="423.60" y1="180.00" x2="427.00" y2="180.00" stroke="#333" stroke-width="1.5"/>
<text x="421.40" y="184.50" font-size="11" fill="#4d4d4d" text-anchor="end">0</text>
<line x1="423.60" y1="121.80" x2="427.00" y2="121.80" stroke="#333" stroke-width="1.5"/>
<text x="421.40" y="126.30" font-size="11" fill="#4d4d4d" text-anchor="end">5</text>
<line x1="423.60" y1="63.60" x2="427.00" y2="63.60" stroke="#333" stroke-width="1.5"/>
<text x="421.40" y="68.10" font-size="11" fill="#4d4d4d" text-anchor="end">10</text>
<path d="M427.00,52.20 L427.00,308.20 L683.00,308.20" fill="none" stroke="#000" stroke-width="1.5" stroke-linecap="butt"/>
<text x="555.00" y="338.30" font-size="13.8" fill="#000" text-anchor="middle">Average SM (kg)</text>
<text transform="translate(395.20,180.20) rotate(-90)" x="0" y="0" font-size="13.8" fill="#000" text-anchor="middle">Difference in SM (kg)</text>
<line x1="49.40" y1="638.20" x2="49.40" y2="641.60" stroke="#333" stroke-width="1.5"/>
<text x="49.40" y="653.20" font-size="11" fill="#4d4d4d" text-anchor="middle">5</text>
<line x1="143.87" y1="638.20" x2="143.87" y2="641.60" stroke="#333" stroke-width="1.5"/>
<text x="143.87" y="653.20" font-size="11" fill="#4d4d4d" text-anchor="middle">10</text>
<line x1="238.33" y1="638.20" x2="238.33" y2="641.60" stroke="#333" stroke-width="1.5"/>
<text x="238.33" y="653.20" font-size="11" fill="#4d4d4d" text-anchor="middle">15</text>
<line x1="332.79" y1="638.20" x2="332.79" y2="641.60" stroke="#333" stroke-width="1.5"/>
<text x="332.79" y="653.20" font-size="11" fill="#4d4d4d" text-anchor="middle">20</text>
<line x1="32.20" y1="626.80" x2="35.60" y2="626.80" stroke="#333" stroke-width="1.5"/>
<text x="30.00" y="631.30" font-size="11" fill="#4d4d4d" text-anchor="end">5</text>
<line x1="32.20" y1="549.20" x2="35.60" y2="549.20" stroke="#333" stroke-width="1.5"/>
<text x="30.00" y="553.70" font-size="11" fill="#4d4d4d" text-anchor="end">10</text>
<line x1="32.20" y1="471.60" x2="35.60" y2="471.60" stroke="#333" stroke-width="1.5"/>
<text x="30.00" y="476.10" font-size="11" fill="#4d4d4d" text-anchor="end">15</text>
<line x1="32.20" y1="394.00" x2="35.60" y2="394.00" stroke="#333" stroke-width="1.5"/>
<text x="30.00" y="398.50" font-size="11" fill="#4d4d4d" text-anchor="end">20</text>
<path d="M35.60,382.50 L35.60,638.20 L347.00,638.20" fill="none" stroke="#000" stroke-width="1.5" stroke-linecap="butt"/>
<text x="191.30" y="668.30" font-size="13.8" fill="#000" text-anchor="middle">MRI Leg SM (kg)</text>
<text transform="translate(11.00,510.35) rotate(-90)" x="0" y="0" font-size="13.8" fill="#000" text-anchor="middle">Predicted Leg SM (kg)</text>
<line x1="435.10" y1="638.20" x2="435.10" y2="641.60" stroke="#333" stroke-width="1.5"/>
<text x="435.10" y="653.20" font-size="11" fill="#4d4d4d" text-anchor="middle">5</text>
<line x1="512.80" y1="638.20" x2="512.80" y2="641.60" stroke="#333" stroke-width="1.5"/>
<text x="512.80" y="653.20" font-size="11" fill="#4d4d4d" text-anchor="middle">10</text>
<line x1="590.50" y1="638.20" x2="590.50" y2="641.60" stroke="#333" stroke-width="1.5"/>
<text x="590.50" y="653.20" font-size="11" fill="#4d4d4d" text-anchor="middle">15</text>
<line x1="668.20" y1="638.20" x2="668.20" y2="641.60" stroke="#333" stroke-width="1.5"/>
<text x="668.20" y="653.20" font-size="11" fill="#4d4d4d" text-anchor="middle">20</text>
<line x1="420.60" y1="634.94" x2="424.00" y2="634.94" stroke="#333" stroke-width="1.5"/>
<text x="418.40" y="639.44" font-size="11" fill="#4d4d4d" text-anchor="end">−8</text>
<line x1="420.60" y1="572.62" x2="424.00" y2="572.62" stroke="#333" stroke-width="1.5"/>
<text x="418.40" y="577.12" font-size="11" fill="#4d4d4d" text-anchor="end">−4</text>
<line x1="420.60" y1="510.30" x2="424.00" y2="510.30" stroke="#333" stroke-width="1.5"/>
<text x="418.40" y="514.80" font-size="11" fill="#4d4d4d" text-anchor="end">0</text>
<line x1="420.60" y1="447.98" x2="424.00" y2="447.98" stroke="#333" stroke-width="1.5"/>
<text x="418.40" y="452.48" font-size="11" fill="#4d4d4d" text-anchor="end">4</text>
<line x1="420.60" y1="385.66" x2="424.00" y2="385.66" stroke="#333" stroke-width="1.5"/>
<text x="418.40" y="390.16" font-size="11" fill="#4d4d4d" text-anchor="end">8</text>
<path d="M424.00,382.80 L424.00,638.20 L680.00,638.20" fill="none" stroke="#000" stroke-width="1.5" stroke-linecap="butt"/>
<text x="552.00" y="668.30" font-size="13.8" fill="#000" text-anchor="middle">Average Leg SM (kg)</text>
<text transform="translate(398.00,510.50) rotate(-90)" x="0" y="0" font-size="13.8" fill="#000" text-anchor="middle">Difference in Leg SM (kg)</text>
<line x1="43.20" y1="968.50" x2="43.20" y2="971.90" stroke="#333" stroke-width="1.5"/>
<text x="43.20" y="983.50" font-size="11" fill="#4d4d4d" text-anchor="middle">0</text>
<line x1="120.24" y1="968.50" x2="120.24" y2="971.90" stroke="#333" stroke-width="1.5"/>
<text x="120.24" y="983.50" font-size="11" fill="#4d4d4d" text-anchor="middle">2</text>
<line x1="197.28" y1="968.50" x2="197.28" y2="971.90" stroke="#333" stroke-width="1.5"/>
<text x="197.28" y="983.50" font-size="11" fill="#4d4d4d" text-anchor="middle">4</text>
<line x1="274.32" y1="968.50" x2="274.32" y2="971.90" stroke="#333" stroke-width="1.5"/>
<text x="274.32" y="983.50" font-size="11" fill="#4d4d4d" text-anchor="middle">6</text>
<line x1="25.60" y1="956.70" x2="29.00" y2="956.70" stroke="#333" stroke-width="1.5"/>
<text x="23.40" y="961.20" font-size="11" fill="#4d4d4d" text-anchor="end">0</text>
<line x1="25.60" y1="894.70" x2="29.00" y2="894.70" stroke="#333" stroke-width="1.5"/>
<text x="23.40" y="899.20" font-size="11" fill="#4d4d4d" text-anchor="end">2</text>
<line x1="25.60" y1="832.70" x2="29.00" y2="832.70" stroke="#333" stroke-width="1.5"/>
<text x="23.40" y="837.20" font-size="11" fill="#4d4d4d" text-anchor="end">4</text>
<line x1="25.60" y1="770.70" x2="29.00" y2="770.70" stroke="#333" stroke-width="1.5"/>
<text x="23.40" y="775.20" font-size="11" fill="#4d4d4d" text-anchor="end">6</text>
<path d="M29.00,712.80 L29.00,968.50 L347.00,968.50" fill="none" stroke="#000" stroke-width="1.5" stroke-linecap="butt"/>
<text x="188.00" y="998.60" font-size="13.8" fill="#000" text-anchor="middle">MRI Arm SM (kg)</text>
<text transform="translate(11.20,840.65) rotate(-90)" x="0" y="0" font-size="13.8" fill="#000" text-anchor="middle">Predicted Arm SM (kg)</text>
<line x1="440.10" y1="968.50" x2="440.10" y2="971.90" stroke="#333" stroke-width="1.5"/>
<text x="440.10" y="983.50" font-size="11" fill="#4d4d4d" text-anchor="middle">0</text>
<line x1="502.14" y1="968.50" x2="502.14" y2="971.90" stroke="#333" stroke-width="1.5"/>
<text x="502.14" y="983.50" font-size="11" fill="#4d4d4d" text-anchor="middle">2</text>
<line x1="564.18" y1="968.50" x2="564.18" y2="971.90" stroke="#333" stroke-width="1.5"/>
<text x="564.18" y="983.50" font-size="11" fill="#4d4d4d" text-anchor="middle">4</text>
<line x1="626.22" y1="968.50" x2="626.22" y2="971.90" stroke="#333" stroke-width="1.5"/>
<text x="626.22" y="983.50" font-size="11" fill="#4d4d4d" text-anchor="middle">6</text>
<line x1="424.90" y1="956.50" x2="428.30" y2="956.50" stroke="#333" stroke-width="1.5"/>
<text x="422.70" y="961.00" font-size="11" fill="#4d4d4d" text-anchor="end">−5.0</text>
<line x1="424.90" y1="898.40" x2="428.30" y2="898.40" stroke="#333" stroke-width="1.5"/>
<text x="422.70" y="902.90" font-size="11" fill="#4d4d4d" text-anchor="end">−2.5</text>
<line x1="424.90" y1="840.30" x2="428.30" y2="840.30" stroke="#333" stroke-width="1.5"/>
<text x="422.70" y="844.80" font-size="11" fill="#4d4d4d" text-anchor="end">0.0</text>
<line x1="424.90" y1="782.20" x2="428.30" y2="782.20" stroke="#333" stroke-width="1.5"/>
<text x="422.70" y="786.70" font-size="11" fill="#4d4d4d" text-anchor="end">2.5</text>
<line x1="424.90" y1="724.10" x2="428.30" y2="724.10" stroke="#333" stroke-width="1.5"/>
<text x="422.70" y="728.60" font-size="11" fill="#4d4d4d" text-anchor="end">5.0</text>
<path d="M428.30,712.80 L428.30,968.50 L687.00,968.50" fill="none" stroke="#000" stroke-width="1.5" stroke-linecap="butt"/>
<text x="557.65" y="998.60" font-size="13.8" fill="#000" text-anchor="middle">Average Arm SM (kg)</text>
<text transform="translate(395.20,840.65) rotate(-90)" x="0" y="0" font-size="13.8" fill="#000" text-anchor="middle">Difference in Arm SM (kg)</text>
</svg>
</body></html>
